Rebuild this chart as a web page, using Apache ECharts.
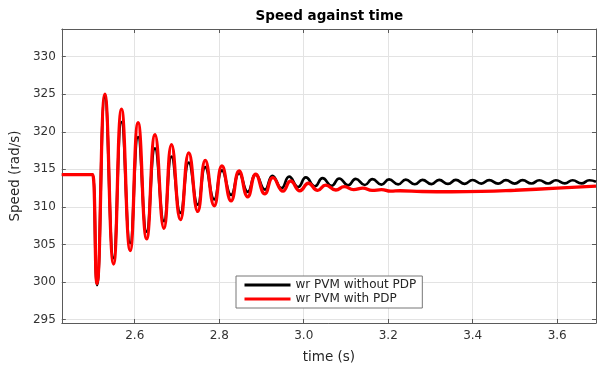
<!DOCTYPE html>
<html>
<head>
<meta charset="utf-8">
<script src="https://cdn.jsdelivr.net/npm/echarts@6/dist/echarts.min.js"></script>
<style>
html,body{margin:0;padding:0;background:#fff;}
#chart{width:598px;height:369px;}
</style>
</head>
<body>
<div id="chart"></div>
<script>
// ---- data ----
var seriesNames = ['wr PVM without PDP', 'wr PVM with PDP'];
var xTicks = [2.6, 2.8, 3.0, 3.2, 3.4, 3.6];
var yTicks = [295, 300, 305, 310, 315, 320, 325, 330];

var blackT = [2.4274, 2.497, 2.5005,
  2.5106, 2.5294, 2.5499, 2.5687, 2.5892, 2.6080, 2.6282, 2.6480, 2.6692, 2.6871,
  2.7082, 2.7280, 2.7492, 2.7670, 2.7882, 2.8065, 2.8282, 2.8470, 2.8675, 2.8864,
  2.9082, 2.9260, 2.9475, 2.9655, 2.9870, 3.0050, 3.0265, 3.0445, 3.0660, 3.0840,
  3.1050, 3.1230, 3.1445, 3.1625, 3.1840, 3.2020, 3.2235, 3.2415, 3.2630, 3.2810,
  3.3025, 3.3205, 3.3415, 3.3600, 3.3810, 3.3995, 3.4205, 3.4390, 3.4600, 3.4785,
  3.4995, 3.5180, 3.5390, 3.5575, 3.5785, 3.5970, 3.6180, 3.6365, 3.6575, 3.6760,
  3.6918];
var blackV = [314.3, 314.3, 314.3,
  299.6, 324.6, 303.2, 321.3, 305.2, 319.3, 306.7, 317.8, 308.1, 316.7,
  309.2, 315.9, 310.3, 315.3, 311.0, 314.85, 311.6, 314.5, 312.0, 314.3,
  312.3, 314.15, 312.5, 314.02, 312.65, 313.92, 312.75, 313.84, 312.82, 313.78,
  312.88, 313.73, 312.92, 313.69, 312.96, 313.66, 313.0, 313.63, 313.02, 313.61,
  313.04, 313.6, 313.06, 313.59, 313.08, 313.58, 313.1, 313.57, 313.1, 313.56,
  313.11, 313.56, 313.12, 313.55, 313.12, 313.55, 313.13, 313.55, 313.13, 313.55,
  313.35];

var redT = [2.4274, 2.497, 2.5005,
  2.5106, 2.5294, 2.5499, 2.5687, 2.5892, 2.6080, 2.6282, 2.6480, 2.6692, 2.6871,
  2.7082, 2.7280, 2.7492, 2.7670, 2.7882, 2.8065, 2.8282, 2.8470, 2.8675, 2.8864,
  2.908, 2.927, 2.951, 2.969, 2.991, 3.011, 3.033, 3.052, 3.076, 3.096,
  3.118, 3.140, 3.162, 3.184, 3.206, 3.228, 3.28, 3.35, 3.42, 3.5, 3.6, 3.6918];
var redV = [314.3, 314.3, 314.3,
  299.8, 325.0, 302.4, 323.0, 304.2, 321.2, 305.75, 319.6, 307.15, 318.3,
  308.3, 317.2, 309.4, 316.2, 310.15, 315.45, 310.8, 314.8, 311.35, 314.35,
  311.75, 313.9, 312.1, 313.45, 312.15, 313.15, 312.2, 312.9, 312.25, 312.7,
  312.3, 312.5, 312.2, 312.3, 312.1, 312.15, 312.05, 312.02, 312.06, 312.22, 312.5, 312.78];

function pairs(t, v) { return t.map(function (x, i) { return [x, v[i]]; }); }

var X_MIN = 2.4274, X_MAX = 3.6918, Y_MIN = 294.56, Y_MAX = 333.67;
var FONT = 'DejaVu Sans';
var AXIS_COLOR = '#5a5a5a';

var chart = echarts.init(document.getElementById('chart'), null, {renderer: 'canvas'});
var hiddenAxis = function (pos, isX) {
  return {
    type: 'value', position: pos, min: isX ? X_MIN : Y_MIN, max: isX ? X_MAX : Y_MAX,
    axisLine: {show: true, onZero: false, lineStyle: {color: AXIS_COLOR, width: 1}},
    axisTick: {show: true, inside: true, length: 4, customValues: isX ? xTicks : yTicks, lineStyle: {color: AXIS_COLOR}},
    axisLabel: {show: false},
    splitLine: {show: false}
  };
};
chart.setOption({
  animation: false,
  backgroundColor: '#ffffff',
  grid: {left: 59, right: 2, top: 29, bottom: 45, containLabel: false},
  graphic: [{
    type: 'text', left: 329.5 - 74, top: 9,
    style: {text: 'Speed against time', font: 'bold 13.5px "DejaVu Sans"', fill: '#000'}
  }],
  legend: {
    orient: 'vertical', left: 236, top: 276,
    padding: [3, 6, 3, 7], itemWidth: 46, itemHeight: 14, itemGap: 2,
    backgroundColor: '#ffffff', borderColor: '#777777', borderWidth: 1, borderRadius: 0,
    itemStyle: {opacity: 0},
    lineStyle: {width: 3},
    textStyle: {fontFamily: FONT, fontSize: 12, color: '#262626'},
    data: seriesNames
  },
  xAxis: [{
    type: 'value', position: 'bottom', min: X_MIN, max: X_MAX,
    name: 'time (s)', nameLocation: 'middle', nameGap: 27,
    nameTextStyle: {fontFamily: FONT, fontSize: 13.5, color: '#262626'},
    axisLine: {show: true, onZero: false, lineStyle: {color: AXIS_COLOR, width: 1}},
    axisTick: {show: true, inside: true, length: 4, customValues: xTicks, lineStyle: {color: AXIS_COLOR}},
    axisLabel: {customValues: xTicks, margin: 7, fontFamily: FONT, fontSize: 12, color: '#333',
      formatter: function (v) { return v.toFixed(1); }},
    splitLine: {show: true, lineStyle: {color: '#e3e3e3', width: 1}}
  }, hiddenAxis('top', true)],
  yAxis: [{
    type: 'value', position: 'left', min: Y_MIN, max: Y_MAX,
    name: 'Speed (rad/s)', nameLocation: 'middle', nameGap: 35, nameRotate: 90,
    nameTextStyle: {fontFamily: FONT, fontSize: 13.5, color: '#262626'},
    axisLine: {show: true, onZero: false, lineStyle: {color: AXIS_COLOR, width: 1}},
    axisTick: {show: true, inside: true, length: 4, customValues: yTicks, lineStyle: {color: AXIS_COLOR}},
    axisLabel: {customValues: yTicks, margin: 6, fontFamily: FONT, fontSize: 12, color: '#333'},
    splitLine: {show: true, lineStyle: {color: '#e3e3e3', width: 1}}
  }, hiddenAxis('right', false)],
  series: [{
    name: seriesNames[0], type: 'line', xAxisIndex: 0, yAxisIndex: 0,
    data: pairs(blackT, blackV), symbol: 'none', smooth: 0.5,
    lineStyle: {color: '#000000', width: 2.7}, itemStyle: {color: '#000000'}, z: 2
  }, {
    name: seriesNames[1], type: 'line', xAxisIndex: 0, yAxisIndex: 0,
    data: pairs(redT, redV), symbol: 'none', smooth: 0.5,
    lineStyle: {color: '#ff0000', width: 3.3}, itemStyle: {color: '#ff0000'}, z: 3
  }]
});
</script>
</body>
</html>
